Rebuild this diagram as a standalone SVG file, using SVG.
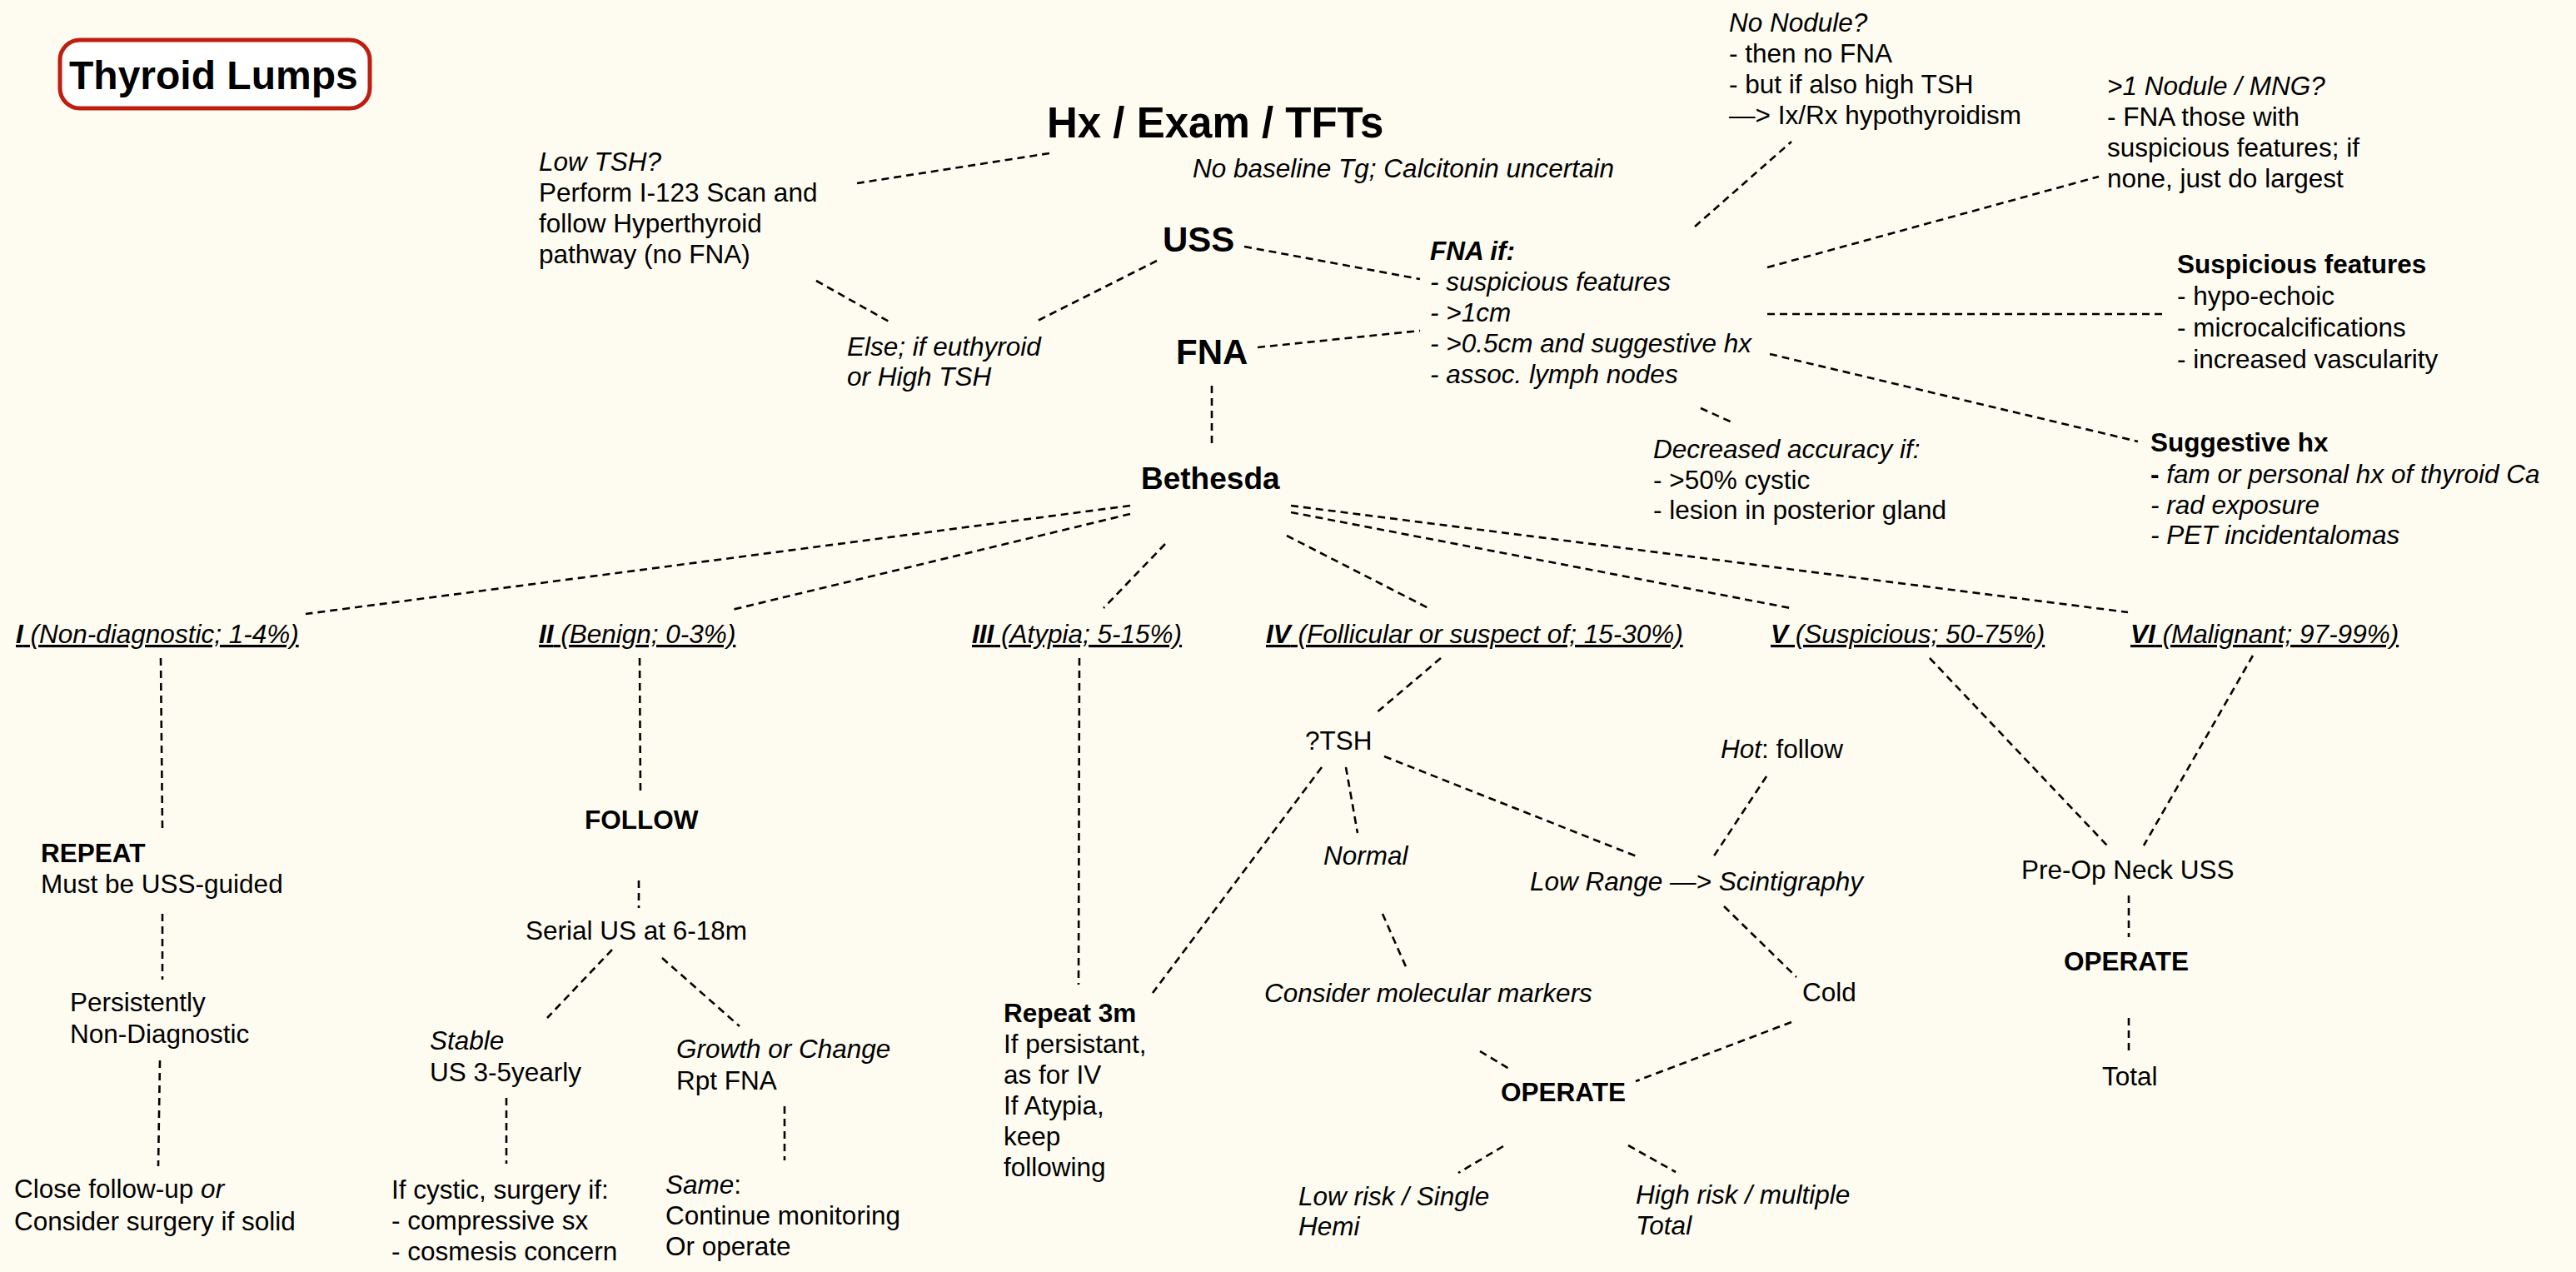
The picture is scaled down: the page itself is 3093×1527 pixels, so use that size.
<svg xmlns="http://www.w3.org/2000/svg" width="3093" height="1527" viewBox="0 0 3093 1527">
<style>
text{font-family:"Liberation Sans",Arial,Helvetica,sans-serif;font-size:31.5px;fill:#000}
.b{font-weight:bold}
.i{font-style:italic}
.u{text-decoration:underline}
.c line{stroke:#000;stroke-width:2.6;stroke-dasharray:9 6;fill:none}
</style>
<rect x="0" y="0" width="3093" height="1527" fill="#FEFCF1"/>
<g id="title">
<rect x="72" y="48" width="372" height="82" rx="24" ry="24" fill="#FFFFFF" stroke="#BE1E12" stroke-width="5"/>
<text x="83" y="107" class="b" style="font-size:48px">Thyroid Lumps</text>
</g>
<g class="c" id="connectors">
<line x1="1260" y1="184" x2="1029" y2="220"/>
<line x1="980" y1="337" x2="1069" y2="387"/>
<line x1="1389" y1="313" x2="1242" y2="387"/>
<line x1="1494" y1="296" x2="1705" y2="335"/>
<line x1="1510" y1="417" x2="1705" y2="397"/>
<line x1="1455" y1="463" x2="1455" y2="537"/>
<line x1="2035" y1="272" x2="2151" y2="170"/>
<line x1="2122" y1="321" x2="2520" y2="212"/>
<line x1="2122" y1="377" x2="2600" y2="377"/>
<line x1="2125" y1="425" x2="2567" y2="530"/>
<line x1="2042" y1="490" x2="2082" y2="508"/>
<line x1="1357" y1="607" x2="367" y2="737"/>
<line x1="1357" y1="617" x2="879" y2="732"/>
<line x1="1399" y1="653" x2="1325" y2="730"/>
<line x1="1545" y1="643" x2="1715" y2="730"/>
<line x1="1550" y1="615" x2="2150" y2="730"/>
<line x1="1550" y1="607" x2="2555" y2="735"/>
<line x1="193" y1="790" x2="195" y2="995"/>
<line x1="768" y1="790" x2="769" y2="955"/>
<line x1="1296" y1="790" x2="1295" y2="1182"/>
<line x1="1730" y1="790" x2="1651" y2="857"/>
<line x1="2317" y1="790" x2="2530" y2="1015"/>
<line x1="2705" y1="787" x2="2574" y2="1015"/>
<line x1="195" y1="1097" x2="195" y2="1176"/>
<line x1="192" y1="1273" x2="190" y2="1400"/>
<line x1="767" y1="1057" x2="767" y2="1090"/>
<line x1="735" y1="1140" x2="657" y2="1222"/>
<line x1="795" y1="1150" x2="888" y2="1232"/>
<line x1="608" y1="1318" x2="608" y2="1397"/>
<line x1="942" y1="1328" x2="942" y2="1393"/>
<line x1="1587" y1="921" x2="1384" y2="1192"/>
<line x1="1616" y1="921" x2="1630" y2="1000"/>
<line x1="1662" y1="908" x2="1965" y2="1028"/>
<line x1="2121" y1="932" x2="2057" y2="1029"/>
<line x1="1660" y1="1097" x2="1690" y2="1165"/>
<line x1="2070" y1="1088" x2="2157" y2="1173"/>
<line x1="2151" y1="1227" x2="1964" y2="1298"/>
<line x1="1777" y1="1262" x2="1812" y2="1283"/>
<line x1="1805" y1="1376" x2="1751" y2="1408"/>
<line x1="1955" y1="1375" x2="2012" y2="1407"/>
<line x1="2556" y1="1075" x2="2556" y2="1125"/>
<line x1="2556" y1="1222" x2="2556" y2="1262"/>
</g>
<g id="hx"><text x="1257" y="165" class="b" style="font-size:51px">Hx / Exam / TFTs</text></g>
<g id="nobaseline"><text x="1432" y="213" class="i">No baseline Tg; Calcitonin uncertain</text></g>
<g id="lowtsh"><text x="647" y="205"><tspan class="i">Low TSH?</tspan><tspan x="647" y="242">Perform I-123 Scan and</tspan><tspan x="647" y="279">follow Hyperthyroid</tspan><tspan x="647" y="316">pathway (no FNA)</tspan></text></g>
<g id="uss"><text x="1396" y="302" class="b" style="font-size:42px">USS</text></g>
<g id="else"><text x="1017" y="427" class="i">Else; if euthyroid<tspan x="1017" y="463">or High TSH</tspan></text></g>
<g id="fna"><text x="1412" y="437" class="b" style="font-size:42px">FNA</text></g>
<g id="fnaif"><text x="1717" y="312" class="i"><tspan class="b">FNA if:</tspan><tspan x="1717" y="349">- suspicious features</tspan><tspan x="1717" y="386">- &gt;1cm</tspan><tspan x="1717" y="423">- &gt;0.5cm and suggestive hx</tspan><tspan x="1717" y="460">- assoc. lymph nodes</tspan></text></g>
<g id="nonodule"><text x="2076" y="38"><tspan class="i">No Nodule?</tspan><tspan x="2076" y="75">- then no FNA</tspan><tspan x="2076" y="112">- but if also high TSH</tspan><tspan x="2076" y="149">—&gt; Ix/Rx hypothyroidism</tspan></text></g>
<g id="mng"><text x="2530" y="114"><tspan class="i">&gt;1 Nodule / MNG?</tspan><tspan x="2530" y="151">- FNA those with</tspan><tspan x="2530" y="188">suspicious features; if</tspan><tspan x="2530" y="225">none, just do largest</tspan></text></g>
<g id="suspicious"><text x="2614" y="328"><tspan class="b">Suspicious features</tspan><tspan x="2614" y="366">- hypo-echoic</tspan><tspan x="2614" y="404">- microcalcifications</tspan><tspan x="2614" y="442">- increased vascularity</tspan></text></g>
<g id="bethesda"><text x="1370" y="587" class="b" style="font-size:37px">Bethesda</text></g>
<g id="decreased"><text x="1985" y="550"><tspan class="i">Decreased accuracy if:</tspan><tspan x="1985" y="587">- &gt;50% cystic</tspan><tspan x="1985" y="623">- lesion in posterior gland</tspan></text></g>
<g id="suggestive"><text x="2582" y="542"><tspan class="b">Suggestive hx</tspan><tspan x="2582" y="580" class="b">-</tspan><tspan class="i"> fam or personal hx of thyroid Ca</tspan><tspan x="2582" y="617" class="i">- rad exposure</tspan><tspan x="2582" y="653" class="i">- PET incidentalomas</tspan></text></g>
<g id="cat1"><text x="19" y="772" class="i u"><tspan class="b">I</tspan> (Non-diagnostic; 1-4%)</text></g>
<g id="cat2"><text x="647" y="772" class="i u"><tspan class="b">II</tspan> (Benign; 0-3%)</text></g>
<g id="cat3"><text x="1167" y="772" class="i u"><tspan class="b">III</tspan> (Atypia; 5-15%)</text></g>
<g id="cat4"><text x="1520" y="772" class="i u"><tspan class="b">IV</tspan> (Follicular or suspect of; 15-30%)</text></g>
<g id="cat5"><text x="2126" y="772" class="i u"><tspan class="b">V</tspan> (Suspicious; 50-75%)</text></g>
<g id="cat6"><text x="2558" y="772" class="i u"><tspan class="b">VI</tspan> (Malignant; 97-99%)</text></g>
<g id="repeat"><text x="49" y="1035"><tspan class="b">REPEAT</tspan><tspan x="49" y="1072">Must be USS-guided</tspan></text></g>
<g id="persist"><text x="84" y="1214">Persistently<tspan x="84" y="1252">Non-Diagnostic</tspan></text></g>
<g id="close"><text x="17" y="1438">Close follow-up <tspan class="i">or</tspan><tspan x="17" y="1477">Consider surgery if solid</tspan></text></g>
<g id="follow"><text x="702" y="995" class="b">FOLLOW</text></g>
<g id="serial"><text x="631" y="1128">Serial US at 6-18m</text></g>
<g id="stable"><text x="516" y="1260"><tspan class="i">Stable</tspan><tspan x="516" y="1298">US 3-5yearly</tspan></text></g>
<g id="growth"><text x="812" y="1270"><tspan class="i">Growth or Change</tspan><tspan x="812" y="1308">Rpt FNA</tspan></text></g>
<g id="cystic"><text x="470" y="1439">If cystic, surgery if:<tspan x="470" y="1476">- compressive sx</tspan><tspan x="470" y="1513">- cosmesis concern</tspan></text></g>
<g id="same"><text x="799" y="1433"><tspan class="i">Same</tspan>:<tspan x="799" y="1470">Continue monitoring</tspan><tspan x="799" y="1507">Or operate</tspan></text></g>
<g id="repeat3m"><text x="1205" y="1227"><tspan class="b">Repeat 3m</tspan><tspan x="1205" y="1264">If persistant,</tspan><tspan x="1205" y="1301">as for IV</tspan><tspan x="1205" y="1338">If Atypia,</tspan><tspan x="1205" y="1375">keep</tspan><tspan x="1205" y="1412">following</tspan></text></g>
<g id="tsh"><text x="1567" y="900">?TSH</text></g>
<g id="hot"><text x="2066" y="910"><tspan class="i">Hot</tspan>: follow</text></g>
<g id="normal"><text x="1589" y="1038" class="i">Normal</text></g>
<g id="lowrange"><text x="1837" y="1069" class="i">Low Range —&gt; Scintigraphy</text></g>
<g id="molecular"><text x="1518" y="1203" class="i">Consider molecular markers</text></g>
<g id="cold"><text x="2164" y="1202">Cold</text></g>
<g id="operate1"><text x="1802" y="1322" class="b">OPERATE</text></g>
<g id="lowrisk"><text x="1559" y="1447" class="i">Low risk / Single<tspan x="1559" y="1483">Hemi</tspan></text></g>
<g id="highrisk"><text x="1964" y="1445" class="i">High risk / multiple<tspan x="1964" y="1482">Total</tspan></text></g>
<g id="preop"><text x="2427" y="1055">Pre-Op Neck USS</text></g>
<g id="operate2"><text x="2478" y="1165" class="b">OPERATE</text></g>
<g id="total"><text x="2524" y="1303">Total</text></g>
</svg>
